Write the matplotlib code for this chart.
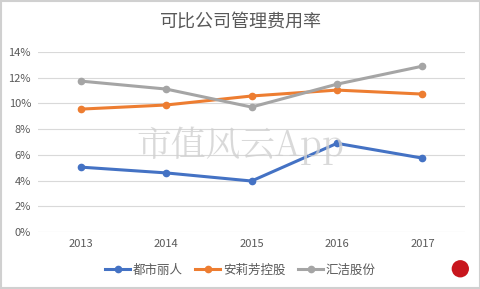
import matplotlib
matplotlib.use("Agg")
import matplotlib.pyplot as plt
from matplotlib.patches import Ellipse, Rectangle

plt.rcParams['font.family'] = ['Noto Sans CJK SC', 'DejaVu Sans']

years = ['2013', '2014', '2015', '2016', '2017']
dushi = [5.05, 4.6, 3.97, 6.9, 5.75]
anlifang = [9.56, 9.88, 10.58, 11.04, 10.73]
huijie = [11.74, 11.12, 9.72, 11.5, 12.9]
names = ['都市丽人', '安莉芳控股', '汇洁股份']
colors = ['#4472C4', '#ED7D31', '#A5A5A5']

fig = plt.figure(figsize=(4.81, 2.89), dpi=100)
ax = fig.add_axes([0.079, 0.197, 0.888, 0.623])
x = range(len(years))
for vals, name, c in zip([dushi, anlifang, huijie], names, colors):
    ax.plot(x, vals, color=c, lw=2.2, marker='o', ms=4.5, label=name, zorder=3)

ax.set_xlim(-0.5, 4.5)
ax.set_ylim(0, 14)
ax.set_yticks(range(0, 15, 2))
ax.set_yticklabels([f'{v}%' for v in range(0, 15, 2)])
ax.set_xticks(list(x))
ax.set_xticklabels(years)
ax.grid(axis='y', color='#D9D9D9', lw=0.8)
ax.set_axisbelow(True)
for s in ax.spines.values():
    s.set_visible(False)
ax.tick_params(length=0, colors='#595959', labelsize=8, pad=5)

fig.text(0.5, 0.925, '可比公司管理费用率', ha='center', va='center', fontsize=13, color='#595959')
fig.text(0.5, 0.495, '市值风云App', ha='center', va='center', fontsize=25, color='#D0D0D0',
         family=['Noto Serif CJK SC', 'Noto Sans CJK SC', 'DejaVu Sans'], alpha=0.8, zorder=5)

leg = fig.legend(loc='center', bbox_to_anchor=(0.5, 0.065), ncol=3, frameon=False,
                 fontsize=9, handlelength=2.0, columnspacing=1.0, handletextpad=0.2,
                 labelcolor='#595959')

# border
fig.patches.append(Rectangle((0.002, 0.003), 0.995, 0.993, transform=fig.transFigure,
                             fill=False, edgecolor='#D0D0D0', lw=1.5))
# logo
fig.patches.append(Ellipse((0.957, 0.07), 0.036, 0.06,
                           transform=fig.transFigure, facecolor='#C8161D', edgecolor='none'))
fig.savefig('out.png', dpi=100)
